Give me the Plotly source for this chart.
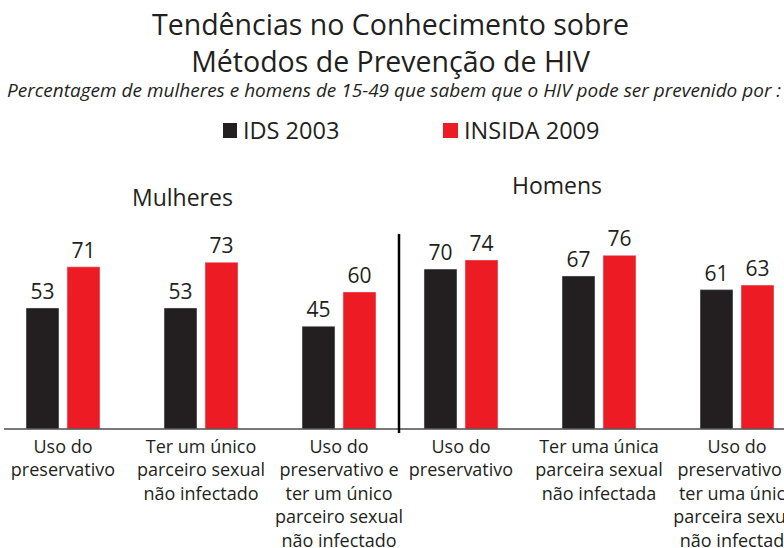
import plotly.graph_objects as go

# ---- data ----
series_names = ["IDS 2003", "INSIDA 2009"]
panel_names = ["Mulheres", "Homens"]
labels_mulheres = [
    "Uso do<br>preservativo",
    "Ter um único<br>parceiro sexual<br>não infectado",
    "Uso do<br>preservativo e<br>ter um único<br>parceiro sexual<br>não infectado",
]
labels_homens = [
    "Uso do<br>preservativo",
    "Ter uma única<br>parceira sexual<br>não infectada",
    "Uso do<br>preservativo e<br>ter uma única<br>parceira sexual<br>não infectada",
]
ids_2003 = [53, 53, 45, 70, 67, 61]
insida_2009 = [71, 73, 60, 74, 76, 63]

# ---- layout helpers (x axis in pixel-like units) ----
W, H = 784, 548
PLOT_TOP, PLOT_BOTTOM = 100, 429
PX_PER_UNIT = 2.285
GROUP_STEP = 138
PANEL_STARTS = [63, 461]
centers = [p + i * GROUP_STEP for p in PANEL_STARTS for i in range(3)]
tick_text = labels_mulheres + labels_homens

DARK = "#231f20"
RED = "#ed1c24"
FONT = "Open Sans"


def ypaper(py):
    return (PLOT_BOTTOM - py) / (PLOT_BOTTOM - PLOT_TOP)


fig = go.Figure()
fig.add_trace(go.Bar(
    x=centers, y=ids_2003, name=series_names[0], marker_color=DARK,
    width=33, offset=-37, text=ids_2003, textposition="outside",
    textfont=dict(size=21, color=DARK, family=FONT), cliponaxis=False,
))
fig.add_trace(go.Bar(
    x=centers, y=insida_2009, name=series_names[1], marker_color=RED,
    width=33, offset=4, text=insida_2009, textposition="outside",
    textfont=dict(size=21, color=DARK, family=FONT), cliponaxis=False,
))

annotations = [
    dict(text="Tendências no Conhecimento sobre<br>Métodos de Prevenção de HIV",
         x=390, xref="x", y=ypaper(42), yref="paper", xanchor="center", yanchor="middle",
         showarrow=False, font=dict(size=28.5, color=DARK, family=FONT)),
    dict(text="<i>Percentagem de mulheres e homens de 15-49 que sabem que o HIV pode ser prevenido por :</i>",
         x=393.5, xref="x", y=ypaper(90), yref="paper", xanchor="center", yanchor="middle",
         showarrow=False, font=dict(size=19, color=DARK, family=FONT)),
    dict(text=series_names[0], x=241, xref="x", y=ypaper(130), yref="paper",
         xanchor="left", yanchor="middle", showarrow=False,
         font=dict(size=23.5, color=DARK, family=FONT)),
    dict(text=series_names[1], x=462, xref="x", y=ypaper(130), yref="paper",
         xanchor="left", yanchor="middle", showarrow=False,
         font=dict(size=23.5, color=DARK, family=FONT)),
    dict(text=panel_names[0], x=182, xref="x", y=ypaper(197), yref="paper",
         xanchor="center", yanchor="middle", showarrow=False,
         font=dict(size=23, color=DARK, family=FONT)),
    dict(text=panel_names[1], x=557, xref="x", y=ypaper(185), yref="paper",
         xanchor="center", yanchor="middle", showarrow=False,
         font=dict(size=23, color=DARK, family=FONT)),
]

shapes = [
    dict(type="rect", xref="x", yref="paper", x0=223, x1=237, y0=ypaper(138), y1=ypaper(123),
         fillcolor=DARK, line=dict(width=0)),
    dict(type="rect", xref="x", yref="paper", x0=443, x1=458, y0=ypaper(138), y1=ypaper(123),
         fillcolor=RED, line=dict(width=0)),
    dict(type="line", xref="x", yref="paper", x0=4, x1=784, y0=0, y1=0,
         line=dict(color="#4d4d4d", width=1.5)),
    dict(type="line", xref="x", yref="paper", x0=399, x1=399, y0=ypaper(433), y1=ypaper(234),
         line=dict(color="black", width=2.5)),
]

fig.update_layout(
    width=W, height=H,
    margin=dict(l=0, r=0, t=PLOT_TOP, b=H - PLOT_BOTTOM, pad=0, autoexpand=False),
    paper_bgcolor="white", plot_bgcolor="white",
    barmode="overlay", showlegend=False,
    xaxis=dict(range=[0, W], tickvals=centers, ticktext=tick_text, showgrid=False,
               zeroline=False, showline=False, ticks="", ticklabelstandoff=5,
               ticklabeloverflow="allow", automargin=False,
               tickfont=dict(size=18, color=DARK, family=FONT)),
    yaxis=dict(range=[0, (PLOT_BOTTOM - PLOT_TOP) / PX_PER_UNIT], visible=False,
               automargin=False),
    annotations=annotations, shapes=shapes,
)

fig.write_html(
    "out.html",
    config={"displayModeBar": False},
    post_script="document.body.style.margin='0';document.body.style.overflow='hidden';",
)
